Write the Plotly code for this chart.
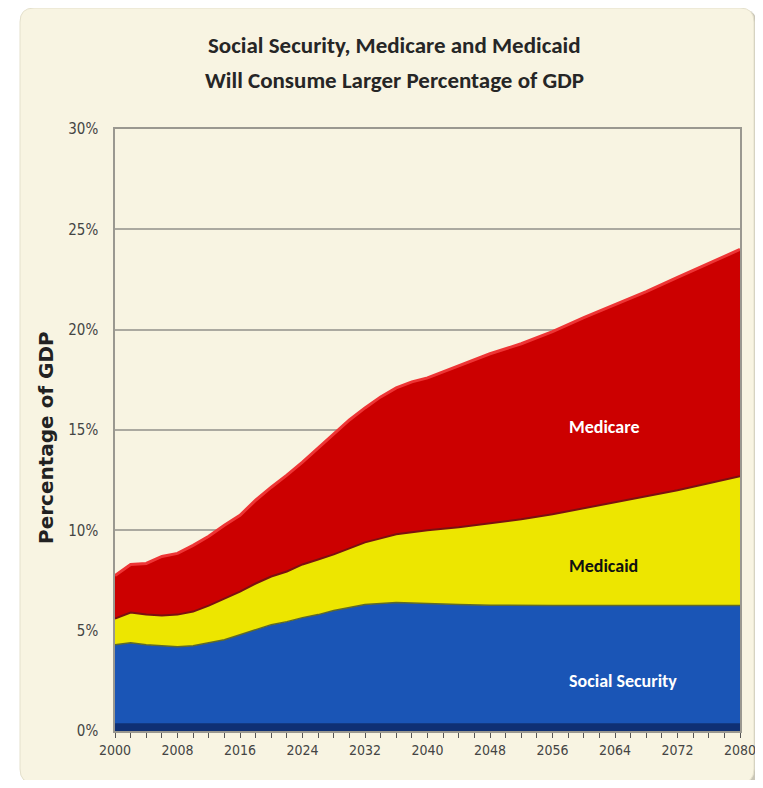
import plotly.graph_objects as go

years = [2000, 2002, 2004, 2006, 2008, 2010, 2012, 2014, 2016, 2018, 2020,
         2022, 2024, 2026, 2028, 2030, 2032, 2034, 2036, 2038, 2040, 2044,
         2048, 2052, 2056, 2060, 2064, 2068, 2072, 2076, 2080]

social_security = [4.3, 4.4, 4.3, 4.25, 4.2, 4.25, 4.4, 4.55, 4.8, 5.05, 5.3,
                   5.45, 5.65, 5.8, 6.0, 6.15, 6.3, 6.35, 6.4, 6.38, 6.35, 6.3,
                   6.27, 6.25, 6.25, 6.25, 6.25, 6.25, 6.25, 6.25, 6.25]

medicaid = [1.3, 1.5, 1.5, 1.5, 1.6, 1.7, 1.85, 2.05, 2.15, 2.3, 2.4,
            2.5, 2.65, 2.75, 2.8, 2.95, 3.1, 3.25, 3.4, 3.52, 3.65, 3.85,
            4.08, 4.3, 4.55, 4.85, 5.15, 5.45, 5.75, 6.1, 6.45]

medicare = [2.15, 2.4, 2.55, 2.95, 3.05, 3.3, 3.45, 3.65, 3.8, 4.15, 4.45,
            4.8, 5.1, 5.55, 6.0, 6.4, 6.7, 7.05, 7.3, 7.5, 7.6, 8.05,
            8.45, 8.75, 9.1, 9.5, 9.85, 10.2, 10.6, 10.95, 11.3]

y_ticks = [0, 5, 10, 15, 20, 25, 30]
x_ticks = [2000, 2008, 2016, 2024, 2032, 2040, 2048, 2056, 2064, 2072, 2080]

title_lines = ["Social Security, Medicare and Medicaid",
               "Will Consume Larger Percentage of GDP"]

# page offset (body margin) and figure geometry
OFF = 8
W, H = 747, 772
L, R, T, B = 107, 15, 121, 49
PW, PH = W - L - R, H - T - B

CREAM = "#F8F4E2"
TITLE_FONT = "Carlito, Lato, sans-serif"
TICK_FONT = "DejaVu Sans Condensed, Liberation Sans Narrow, sans-serif"


def px(x):
    return (x - OFF - L) / PW


def py(y):
    return (H - B - (y - OFF)) / PH


def rounded_path(x0, y0, x1, y1, r):
    rx, ry = r / PW, r / PH
    a, b, c, d = px(x0), px(x1), py(y0), py(y1)  # c top, d bottom
    return (f"M {a+rx},{c} L {b-rx},{c} Q {b},{c} {b},{c-ry} "
            f"L {b},{d+ry} Q {b},{d} {b-rx},{d} L {a+rx},{d} "
            f"Q {a},{d} {a},{d+ry} L {a},{c-ry} Q {a},{c} {a+rx},{c} Z")


fig = go.Figure()

fig.add_trace(go.Scatter(
    x=years, y=social_security, name="Social Security", stackgroup="one",
    mode="lines", fillcolor="#1A55B6",
    line=dict(color="#5F6A2A", width=1.5), hoverinfo="x+y"))
fig.add_trace(go.Scatter(
    x=years, y=medicaid, name="Medicaid", stackgroup="one",
    mode="lines", fillcolor="#EDE600",
    line=dict(color="#7A1010", width=2), hoverinfo="x+y"))
fig.add_trace(go.Scatter(
    x=years, y=medicare, name="Medicare", stackgroup="one",
    mode="lines", fillcolor="#CC0000",
    line=dict(color="#EE3535", width=3), hoverinfo="x+y"))

shapes = [
    dict(type="path", xref="paper", yref="paper", layer="below",
         path=rounded_path(22, 10, 757, 786, 14),
         fillcolor="#C9C6B8", line=dict(width=0)),
    dict(type="path", xref="paper", yref="paper", layer="below",
         path=rounded_path(20, 8, 754, 783, 14),
         fillcolor=CREAM, line=dict(color="#E4E0CC", width=1)),
    dict(type="rect", xref="x domain", yref="y domain", layer="above",
         x0=0, x1=1, y0=0, y1=0.013,
         fillcolor="#0E2A68", opacity=0.85, line=dict(width=0)),
]

annotations = [
    dict(text=title_lines[0], xref="paper", yref="paper", x=px(394), y=py(45),
         showarrow=False,
         font=dict(family=TITLE_FONT, size=23, color="#262626", weight=700),
         xanchor="center", yanchor="middle"),
    dict(text=title_lines[1], xref="paper", yref="paper", x=px(394), y=py(80),
         showarrow=False,
         font=dict(family=TITLE_FONT, size=23, color="#262626", weight=700),
         xanchor="center", yanchor="middle"),
    dict(text="<b>Percentage of GDP</b>", xref="paper", yref="paper",
         x=px(46), y=py(438), textangle=-90, showarrow=False,
         font=dict(family="DejaVu Sans, sans-serif", size=20, color="#222222"),
         xanchor="center", yanchor="middle"),
    dict(text="<b>Medicare</b>", x=2062.6, y=15.15, showarrow=False,
         font=dict(family=TITLE_FONT, size=18, color="white")),
    dict(text="<b>Medicaid</b>", x=2062.5, y=8.2, showarrow=False,
         font=dict(family=TITLE_FONT, size=18, color="#111111")),
    dict(text="<b>Social Security</b>", x=2065, y=2.5, showarrow=False,
         font=dict(family=TITLE_FONT, size=18, color="white")),
]

fig.update_layout(
    width=W, height=H,
    margin=dict(l=L, r=R, t=T, b=B, autoexpand=False),
    paper_bgcolor="white",
    plot_bgcolor="rgba(0,0,0,0)",
    showlegend=False,
    shapes=shapes,
    annotations=annotations,
    xaxis=dict(
        range=[2000, 2080], tickvals=x_ticks, ticktext=[str(v) for v in x_ticks],
        ticks="outside", ticklen=5, tickwidth=1, tickcolor="#555555",
        minor=dict(dtick=2, tick0=2000, ticks="outside", ticklen=5,
                   tickwidth=1, tickcolor="#555555"),
        ticklabeloverflow="allow", automargin=False,
        showgrid=False, zeroline=False,
        showline=True, linecolor="#9A9890", linewidth=1.5, mirror=True,
        tickfont=dict(family=TICK_FONT, size=14, color="#444444"),
    ),
    yaxis=dict(
        range=[0, 30], tickvals=y_ticks, ticktext=[f"{v}%" for v in y_ticks],
        ticks="outside", ticklen=12, tickcolor="rgba(0,0,0,0)",
        automargin=False,
        showgrid=True, gridcolor="#ABA9A0", gridwidth=1.5, zeroline=False,
        showline=True, linecolor="#9A9890", linewidth=1.5, mirror=True,
        tickfont=dict(family=TICK_FONT, size=15, color="#444444"),
    ),
)

fig.write_html("out.html")
